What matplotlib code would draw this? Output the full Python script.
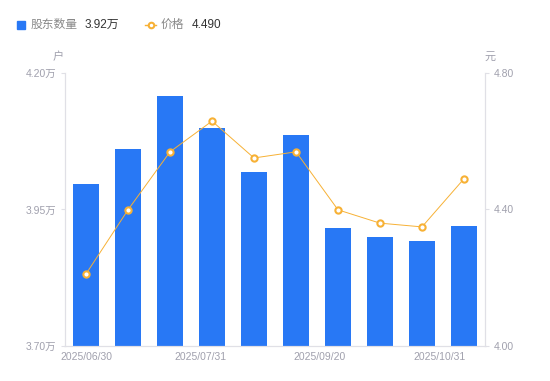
import numpy as np
import matplotlib
matplotlib.use('Agg')
import matplotlib.pyplot as plt
from matplotlib.lines import Line2D

plt.rcParams['font.family'] = ['Liberation Sans', 'Noto Sans CJK SC', 'DejaVu Sans']

holders = [3.997, 4.061, 4.158, 4.099, 4.019, 4.086, 3.916, 3.900, 3.892, 3.920]
price = [4.211, 4.399, 4.569, 4.659, 4.551, 4.569, 4.399, 4.360, 4.349, 4.490]
date_labels = ['2025/06/30', '2025/07/31', '2025/09/20', '2025/10/31']
date_pos = [0, 2.72, 5.57, 8.43]
left_ticks = [3.70, 3.95, 4.20]
right_ticks = [4.00, 4.40, 4.80]

blue = '#2878f5'
orange = '#f7b135'
grey = '#a0a0ad'
axis_grey = '#e0e0e6'

fig = plt.figure(figsize=(5.5, 3.81), dpi=100)
ax = fig.add_axes([0.1182, 0.0919, 0.7636, 0.7165])
x = np.arange(len(holders))
ax.bar(x, holders, width=0.6, color=blue, zorder=2)
ax.set_xlim(-0.5, len(holders) - 0.5)
ax.set_ylim(3.70, 4.20)
ax.set_yticks(left_ticks)
ax.set_yticklabels([f'{v:.2f}万' for v in left_ticks])
ax.set_xticks(date_pos)
ax.set_xticklabels(date_labels)

ax2 = ax.twinx()
ax2.plot(x, price, color=orange, lw=0.7, marker='o', ms=4.5, mfc='white',
         mec=orange, mew=1.5, zorder=3)
ax2.set_ylim(4.00, 4.80)
ax2.set_yticks(right_ticks)
ax2.set_yticklabels([f'{v:.2f}' for v in right_ticks])

for a in (ax, ax2):
    for s in a.spines.values():
        s.set_color(axis_grey)
        s.set_linewidth(0.8)
    a.spines['top'].set_visible(False)
    a.tick_params(colors=grey, labelsize=7.5, length=3, width=0.8)
    a.tick_params(axis='y', color=axis_grey)
ax.tick_params(axis='x', length=0, pad=4)
ax2.tick_params(axis='x', length=0)

fig.text(58 / 550, 1 - 57 / 381, '户', color=grey, fontsize=8, ha='center', va='center')
fig.text(490 / 550, 1 - 57 / 381, '元', color=grey, fontsize=8, ha='center', va='center')

# legend
fig.patches.append(plt.Rectangle((17 / 550, 1 - 28.5 / 381), 8 / 550, 8 / 381,
                                 transform=fig.transFigure, color=blue, figure=fig))
fig.text(31 / 550, 1 - 24.5 / 381, '股东数量', color='#888888', fontsize=8.5, va='center')
fig.text(85 / 550, 1 - 24.5 / 381, '3.92万', color='#333333', fontsize=8.5, va='center')
fig.lines.append(Line2D([145 / 550, 150.5 / 550, 156 / 550], [1 - 24.5 / 381] * 3,
                        transform=fig.transFigure, color=orange, lw=1, marker='o', ms=4,
                        mfc='white', mec=orange, mew=1.5, markevery=[1], figure=fig))
fig.text(161 / 550, 1 - 24.5 / 381, '价格', color='#888888', fontsize=8.5, va='center')
fig.text(192 / 550, 1 - 24.5 / 381, '4.490', color='#333333', fontsize=8.5, va='center')

fig.savefig('out.png', dpi=100)
